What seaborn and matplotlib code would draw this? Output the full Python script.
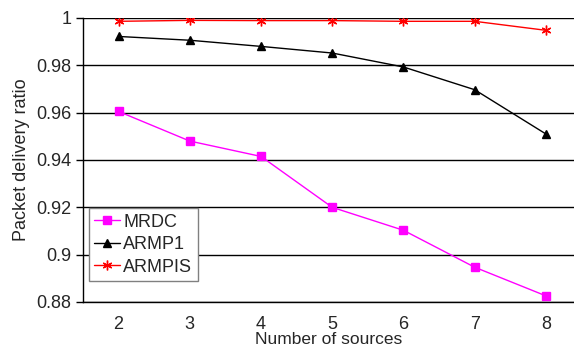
import numpy as np
import pandas as pd
import seaborn as sns
import matplotlib.pyplot as plt
from matplotlib.ticker import FixedLocator

# --- Data ---
sources = [2, 3, 4, 5, 6, 7, 8]
mrdc = [0.9605, 0.948, 0.9415, 0.920, 0.9103, 0.8947, 0.8826]
armp1 = [0.9922, 0.9906, 0.9880, 0.9852, 0.9793, 0.9697, 0.9510]
armpis = [0.9986, 0.9990, 0.9989, 0.9989, 0.9986, 0.9986, 0.9948]

df = pd.DataFrame({'sources': sources, 'MRDC': mrdc, 'ARMP1': armp1, 'ARMPIS': armpis})

sns.set_style('white')
plt.rcParams['font.family'] = ['Liberation Sans', 'DejaVu Sans']

fig = plt.figure(figsize=(5.74, 3.49), dpi=100)
ax = fig.add_axes([83 / 574, 1 - 302 / 349, 1 - 83 / 574, (302 - 18) / 349])

styles = {
    'MRDC': ('#ff00ff', 's', 6),
    'ARMP1': ('black', '^', 6),
    'ARMPIS': ('#ff0000', (6, 2, 0), 7),
}
for name, (color, marker, ms) in styles.items():
    sns.lineplot(data=df, x='sources', y=name, color=color, marker=marker,
                 markersize=ms, markeredgecolor=color, markeredgewidth=1,
                 linewidth=1, label=name, ax=ax, zorder=3)

ax.set_xlim(1.5, 8.395)
ax.set_ylim(0.88, 1.0)
ax.set_yticks(np.arange(0.88, 1.001, 0.02))
ax.set_yticklabels(['0.88', '0.9', '0.92', '0.94', '0.96', '0.98', '1'])
ax.set_xticks(sources)
ax.xaxis.set_minor_locator(FixedLocator(np.arange(1.5, 8.6, 1)))
ax.tick_params(axis='x', which='major', length=0, labelsize=13, pad=10)
ax.tick_params(axis='x', which='minor', length=5, width=1, direction='out', color='black')
ax.tick_params(axis='y', length=5, width=1, direction='out', color='black', labelsize=13, left=True)
ax.grid(axis='y', color='black', linewidth=1)
ax.set_axisbelow(True)

for side in ['top', 'right']:
    ax.spines[side].set_visible(False)
for side in ['left', 'bottom']:
    ax.spines[side].set_color('black')
    ax.spines[side].set_linewidth(1)

ax.set_xlabel('Number of sources', fontsize=12.5, labelpad=-0.5)
ax.set_ylabel('Packet delivery ratio', fontsize=13, labelpad=4)

leg = ax.legend(loc='lower left', bbox_to_anchor=(0.012, 0.074), fontsize=13,
                frameon=True, fancybox=False, handlelength=1.4, handletextpad=0.2,
                borderpad=0.3, labelspacing=0.3, borderaxespad=0)
leg.get_frame().set_edgecolor('#808080')
leg.get_frame().set_linewidth(1)
leg.get_frame().set_alpha(1)

fig.savefig('out.png', dpi=100)
